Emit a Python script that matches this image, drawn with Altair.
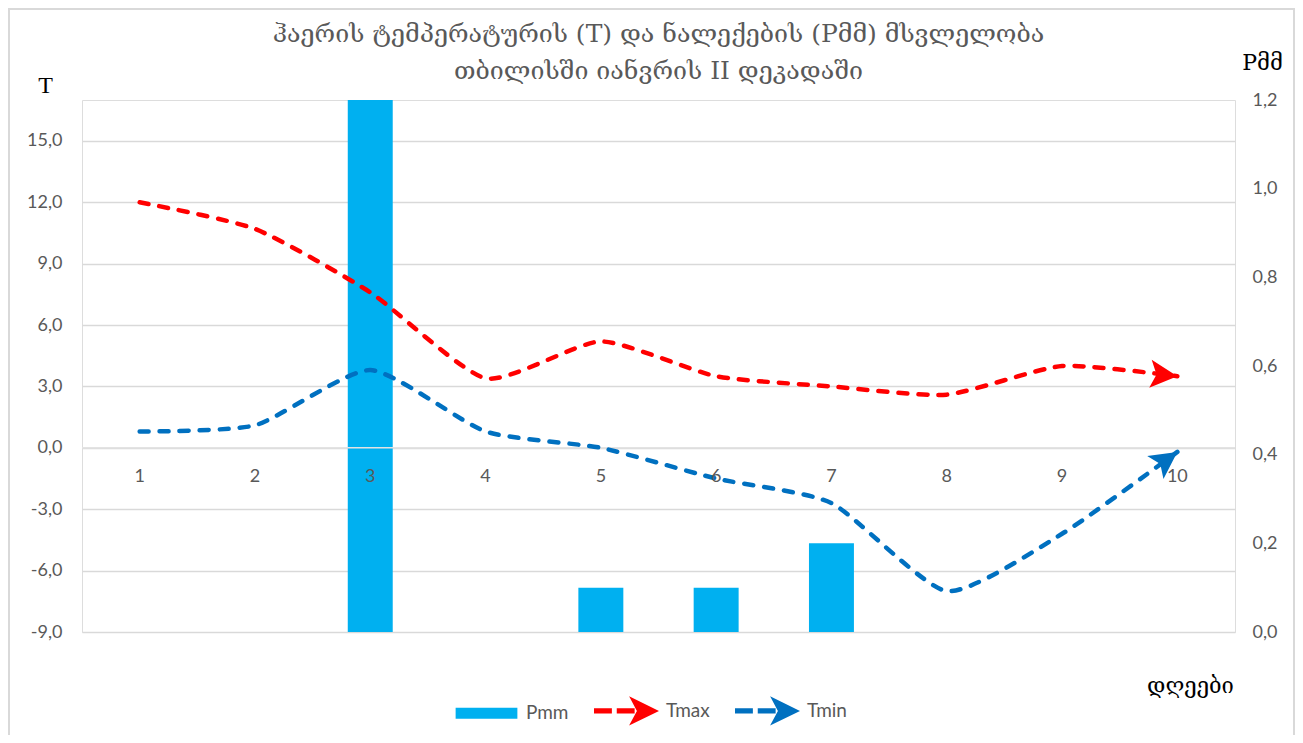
import math
import altair as alt
import pandas as pd

# ---------------- data ----------------
days = [1, 2, 3, 4, 5, 6, 7, 8, 9, 10]
tmax = [12.0, 10.7, 7.6, 3.4, 5.2, 3.5, 3.0, 2.6, 4.0, 3.5]
tmin = [0.8, 1.1, 3.8, 0.8, 0.0, -1.5, -2.7, -7.0, -4.2, -0.2]
pmm = [0.0, 0.0, 1.2, 0.0, 0.1, 0.1, 0.2, 0.0, 0.0, 0.0]

series_names = ["Pmm", "Tmax", "Tmin"]
series_colors = ["#00B0F0", "#FF0000", "#0070C0"]

t_ticks = [-9, -6, -3, 0, 3, 6, 9, 12, 15]
p_ticks = [0, 0.2, 0.4, 0.6, 0.8, 1.0, 1.2]
t_domain = [-9, 17]
p_domain = [0, 1.2]

title_lines = [
    "ჰაერის ტემპერატურის (T) და ნალექების (Pმმ)  მსვლელობა",
    "თბილისში იანვრის II  დეკადაში",
]
x_title = "დღეები"
t_title = "T"
p_title = "Pმმ"

# ---------------- layout ----------------
W, H = 1153, 532
PAD = {"left": 74, "top": 92, "right": 60, "bottom": 103}
GRAY = "#595959"
GRID = "#d9d9d9"
NUM_FONT = "Lato"
GEO_FONT = "DejaVu Serif"

step_px = W / len(days)
px_per_t = H / (t_domain[1] - t_domain[0])
zero_px = H * (t_domain[1] - 0) / (t_domain[1] - t_domain[0])
x_axis_offset = -(H - zero_px)

comma_expr = "replace(replace(format(datum.value, '.1f'), '.', ','), '\u2212', '-')"

bars_df = pd.DataFrame({"day": days, "pmm": pmm})
temps_df = pd.DataFrame({
    "day": days + days,
    "value": tmax + tmin,
    "series": ["Tmax"] * len(days) + ["Tmin"] * len(days),
    "colour": [series_colors[1]] * len(days) + [series_colors[2]] * len(days),
})


def end_angle(vals):
    dy = (vals[-1] - vals[-2]) * px_per_t
    return math.degrees(math.atan2(-dy, step_px)) % 360


arrow_df = pd.DataFrame({
    "day": [days[-1], days[-1]],
    "value": [tmax[-1], tmin[-1]],
    "angle": [end_angle(tmax), end_angle(tmin)],
    "colour": [series_colors[1], series_colors[2]],
})
legend_df = pd.DataFrame({"series": series_names})
one_df = pd.DataFrame({"a": [0]})

# ---------------- scales / axes ----------------
x_scale = alt.Scale(paddingInner=0.61, paddingOuter=0.305)
x_axis = alt.Axis(
    orient="bottom", offset=x_axis_offset, domain=False, ticks=False, tickSize=0,
    grid=False, labelPadding=20, labelAngle=0, labelFont=NUM_FONT, labelFontSize=18,
    labelColor=GRAY, title=x_title, titleX=1108, titleY=238, titleAlign="center",
    titleBaseline="middle", titleFont=GEO_FONT, titleFontSize=22,
    titleFontWeight="normal", titleColor="#000000", zindex=1,
)
t_scale = alt.Scale(domain=t_domain, nice=False, zero=False)
t_axis = alt.Axis(
    orient="left", values=t_ticks, grid=True, gridColor=GRID, gridWidth=1.3,
    domain=False, ticks=False, labelPadding=20, labelExpr=comma_expr,
    labelFont=NUM_FONT, labelFontSize=18, labelColor=GRAY,
    title=t_title, titleX=-37, titleY=-15, titleAngle=0, titleAlign="center",
    titleBaseline="middle", titleFont="Liberation Serif", titleFontSize=24,
    titleFontWeight="normal", titleColor="#000000",
)
p_scale = alt.Scale(domain=p_domain, nice=False, zero=True)
p_axis = alt.Axis(
    orient="right", values=p_ticks, grid=False, domain=False, ticks=False,
    labelPadding=17, labelExpr=comma_expr, labelFont=NUM_FONT, labelFontSize=18,
    labelColor=GRAY, title=p_title, titleX=27, titleY=-38, titleAngle=0,
    titleAlign="center", titleBaseline="middle", titleFont=GEO_FONT,
    titleFontSize=22, titleFontWeight="normal", titleColor="#000000",
)

X = alt.X("day:O", scale=x_scale, axis=x_axis)

# ---------------- layers ----------------
bars = alt.Chart(bars_df).mark_bar(color=series_colors[0]).encode(
    x=X,
    y=alt.Y("pmm:Q", scale=p_scale, axis=p_axis),
)

zero_rule = alt.Chart(one_df).mark_rule(color="#e3e3e3", strokeWidth=1.5).encode(
    y=alt.Y(datum=0, scale=t_scale, axis=t_axis),
)

temp_lines = alt.Chart(temps_df).mark_line(
    strokeWidth=4.5, strokeDash=[9, 11], strokeCap="round",
    interpolate="cardinal", tension=0.4,
).encode(
    x=X,
    y=alt.Y("value:Q", scale=t_scale, axis=t_axis),
    color=alt.Color("colour:N", scale=None),
    detail="series:N",
)

arrow_path = "M-2,-1.04 L0,0 L-2,1.04 L-1.55,0 Z"
arrows = alt.Chart(arrow_df).mark_point(
    filled=True, shape=arrow_path, size=729, opacity=1, strokeWidth=0
).encode(
    x=X,
    y=alt.Y("value:Q", scale=t_scale, axis=t_axis),
    color=alt.Color("colour:N", scale=None),
    angle=alt.Angle("angle:Q", scale=None),
)

pmm_path = "M-0.95,-0.17 L0.95,-0.17 L0.95,0.17 L-0.95,0.17 Z"
line_path = ("M-1,-0.08 L-0.45,-0.08 L-0.45,0.08 L-1,0.08 Z "
             "M-0.3,-0.08 L0.25,-0.08 L0.25,0.08 L-0.3,0.08 Z "
             "M0.08,-0.45 L1,0 L0.08,0.45 L0.32,0 Z")
legend_props = dict(
    orient="none", legendX=372, legendY=578, direction="horizontal", title=None,
    symbolSize=4225, symbolStrokeWidth=0, symbolOpacity=1, labelFont=NUM_FONT,
    labelFontSize=19, labelColor=GRAY, labelOffset=7, columnPadding=25,
)
legend_layer = alt.Chart(legend_df).mark_point(filled=True, size=4225).encode(
    color=alt.Color("series:N",
                    scale=alt.Scale(domain=series_names, range=series_colors),
                    legend=alt.Legend(**legend_props)),
    shape=alt.Shape("series:N",
                    scale=alt.Scale(domain=series_names,
                                    range=[pmm_path, line_path, line_path]),
                    legend=alt.Legend(**legend_props)),
).transform_filter("false")

border = alt.Chart(one_df).mark_rect(
    fill="transparent", stroke=GRID, strokeWidth=2
).encode(
    x=alt.value(-PAD["left"] + 1),
    x2=alt.value(W + PAD["right"] - 1),
    y=alt.value(-PAD["top"] + 1),
    y2=alt.value(H + PAD["bottom"] + 20),
)

temps = alt.layer(zero_rule, temp_lines, arrows, legend_layer, border)

chart = alt.layer(bars, temps).resolve_scale(y="independent").properties(
    width=W,
    height=H,
    padding=PAD,
    autosize=alt.AutoSizeParams(type="none"),
    title=alt.TitleParams(
        text=title_lines, font=GEO_FONT, fontSize=25, fontWeight="normal",
        color=GRAY, anchor="middle", frame="group", lineHeight=37,
        baseline="bottom", offset=0, dy=101,
    ),
).configure_view(stroke="transparent", strokeWidth=0).configure(background="white")

chart.save("out.html", embed_options={"renderer": "svg", "actions": False})
